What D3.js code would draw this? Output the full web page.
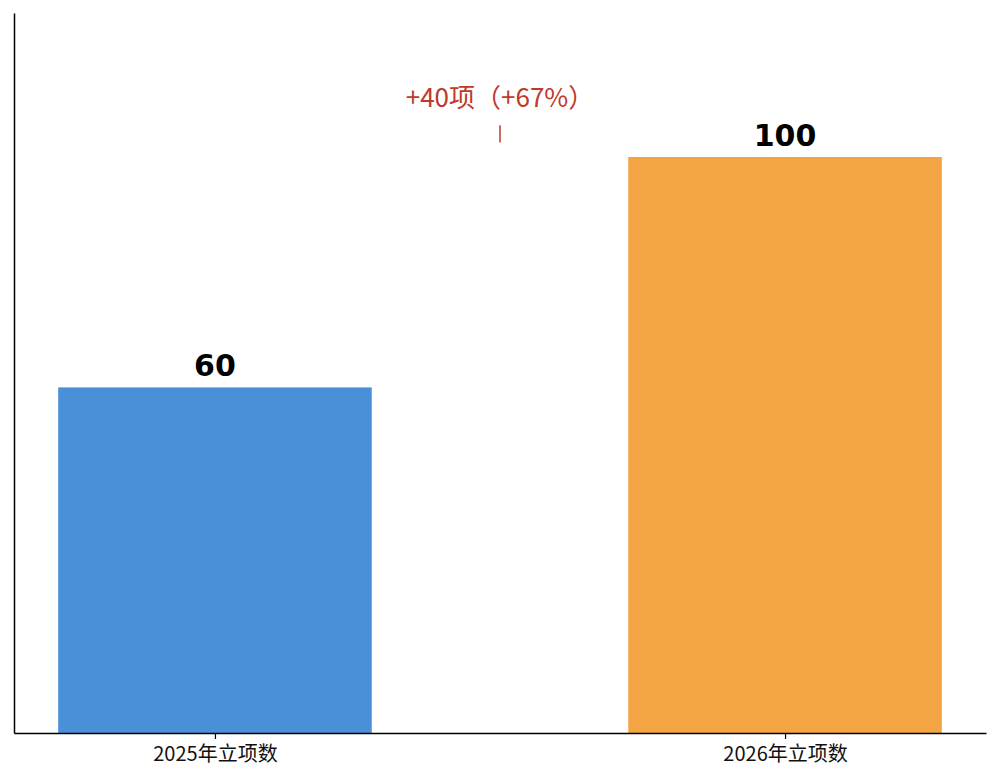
<!DOCTYPE html>
<html>
<head>
<meta charset="utf-8">
<script src="https://cdn.jsdelivr.net/npm/d3@7"></script>
<style>
html,body{margin:0;padding:0;background:#fff;}
svg{display:block;}
</style>
</head>
<body>
<svg id="chart" width="1000" height="784"></svg>
<script>
const categories = ["2025年立项数", "2026年立项数"];
const values = [60, 100];
const colors = ["#4A90D9", "#F4A543"];
const annotationText = "+40项（+67%）";
const annotationX = 0.5;
const annotationLine = [105.5, 102.5];
const annotationTextY = 108.7;

(function () {
const svg = d3.select("#chart");
const mLeft = 14, mRight = 986, mTop = 13, mBottom = 733;
const barWidth = 0.55;

const x = d3.scaleLinear().domain([-0.3525, 1.3525]).range([mLeft, mRight]);
const y = d3.scaleLinear().domain([0, 125]).range([mBottom, mTop]);

const cjk = "'Noto Sans CJK SC', 'Noto Sans', sans-serif";

// bars
svg.append("g").selectAll("rect").data(values).join("rect")
  .attr("x", (d, i) => x(i - barWidth / 2))
  .attr("width", (d, i) => x(i + barWidth / 2) - x(i - barWidth / 2))
  .attr("y", d => y(d))
  .attr("height", d => y(0) - y(d))
  .attr("fill", (d, i) => colors[i]);

// value labels
svg.append("g").selectAll("text").data(values).join("text")
  .attr("x", (d, i) => x(i))
  .attr("y", d => y(d) - 11)
  .attr("text-anchor", "middle")
  .attr("font-family", "'DejaVu Sans', sans-serif")
  .attr("font-weight", "bold")
  .attr("font-size", 30)
  .attr("fill", "#000")
  .text(d => d);

// x axis
const xAxis = d3.axisBottom(x)
  .tickValues(categories.map((c, i) => i))
  .tickFormat(i => categories[i])
  .tickSize(6)
  .tickSizeOuter(0);
const gx = svg.append("g").attr("transform", `translate(0,${mBottom})`).call(xAxis);
gx.select(".domain").attr("stroke", "#000").attr("stroke-width", 1.5);
gx.selectAll(".tick line").attr("stroke", "#000").attr("stroke-width", 1.2);
gx.selectAll(".tick text")
  .attr("font-family", cjk)
  .attr("font-size", 20)
  .attr("fill", "#111")
  .attr("dy", "0.95em");

// y axis (spine only)
const yAxis = d3.axisLeft(y).tickValues([]).tickSizeOuter(0);
const gy = svg.append("g").attr("transform", `translate(${mLeft},0)`).call(yAxis);
gy.select(".domain").attr("stroke", "#000").attr("stroke-width", 1.5);

// annotation
svg.append("line")
  .attr("x1", x(annotationX)).attr("x2", x(annotationX))
  .attr("y1", y(annotationLine[0])).attr("y2", y(annotationLine[1]))
  .attr("stroke", "#C0392B").attr("stroke-width", 1.5);
svg.append("text")
  .attr("x", x(annotationX))
  .attr("y", y(annotationTextY))
  .attr("text-anchor", "middle")
  .attr("font-family", cjk)
  .attr("font-size", 26)
  .attr("fill", "#C0392B")
  .text(annotationText);
})();
</script>
</body>
</html>
